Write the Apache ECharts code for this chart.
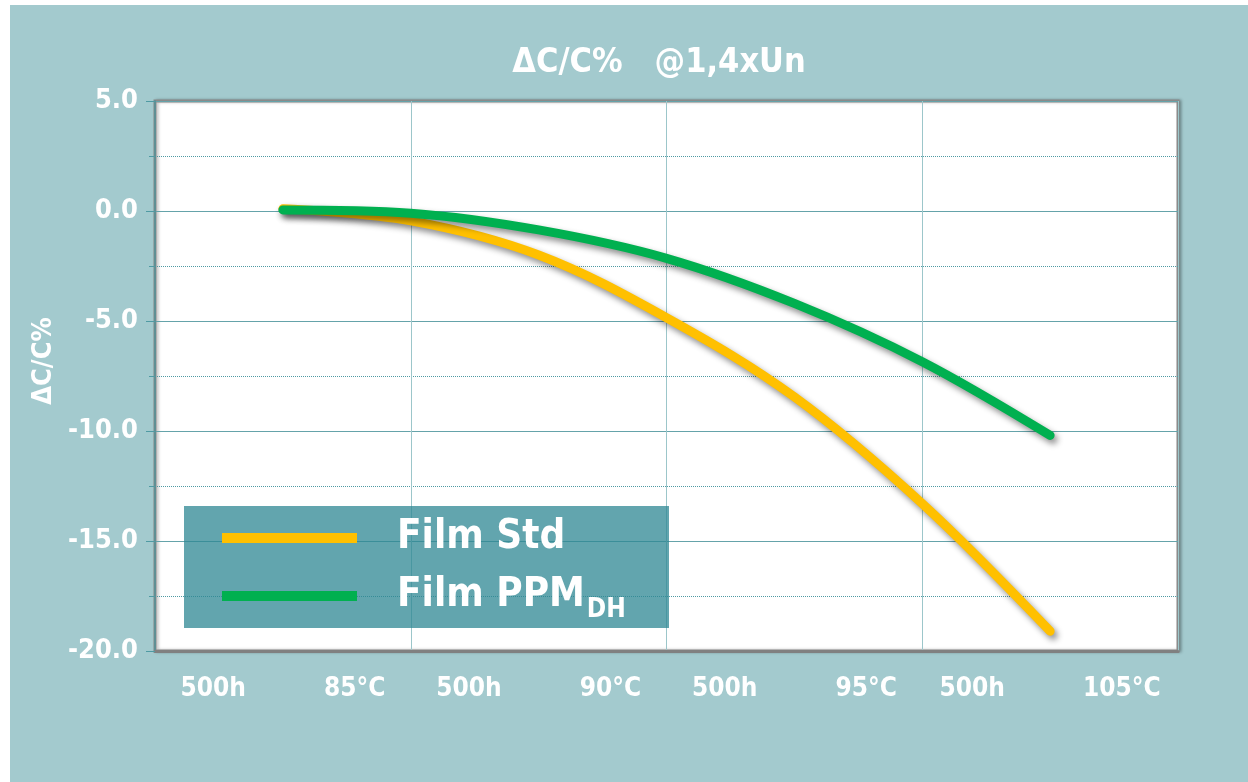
<!DOCTYPE html>
<html>
<head>
<meta charset="utf-8">
<script src="https://cdn.jsdelivr.net/npm/echarts@6/dist/echarts.min.js"></script>
<style>
html,body{margin:0;padding:0;background:#ffffff;}
#chart{width:1248px;height:782px;}
</style>
</head>
<body>
<div id="chart"></div>
<script>
// ---- data ----
const temperatures = ['85°C', '90°C', '95°C', '105°C'];
const durationLabel = '500h';
const xPositions = [0.5, 1.0, 1.5, 2.0, 2.5, 3.0, 3.5];
const filmStd = [0.1, -0.45, -2.0, -4.85, -8.45, -13.3, -19.1];
const filmPPM = [0.05, -0.1, -0.86, -2.15, -4.2, -6.85, -10.2];
const seriesNames = ['Film Std', 'Film PPM'];
const yTicks = { min: -20, max: 5, step: 5 };
const titleText = 'ΔC/C%   @1,4xUn';
const yName = 'ΔC/C%';

const FONT = 'DejaVu Sans Condensed';
const pairs = arr => xPositions.map((x, i) => [x, arr[i]]);

const chart = echarts.init(document.getElementById('chart'), null, { renderer: 'canvas' });
const lineShadow = { shadowColor: 'rgba(0,0,0,0.45)', shadowBlur: 6, shadowOffsetX: 3, shadowOffsetY: 4 };

chart.setOption({
  backgroundColor: '#ffffff',
  animation: false,
  graphic: [
    { type: 'rect', z: -10, silent: true, shape: { x: 10, y: 5, width: 1238, height: 777 }, style: { fill: '#a3cace' } },
    { type: 'rect', z: 3, silent: true, shape: { x: 184, y: 506, width: 485, height: 122 }, style: { fill: 'rgba(46,135,147,0.75)' } }
  ],
  title: {
    text: titleText,
    left: 654, top: 41, textAlign: 'center',
    textStyle: { color: '#ffffff', fontFamily: FONT, fontWeight: 'bold', fontSize: 34 }
  },
  grid: {
    left: 155, top: 101, width: 1023, height: 550,
    show: true, backgroundColor: '#ffffff', borderColor: '#8a8a8a', borderWidth: 3,
    shadowColor: 'rgba(0,0,0,0.25)', shadowBlur: 3, shadowOffsetX: 2, shadowOffsetY: 0
  },
  legend: {
    left: 184, top: 506, orient: 'vertical', z: 4,
    padding: [12, 0, 0, 38], itemGap: 11,
    itemWidth: 135, itemHeight: 10, icon: 'rect',
    data: seriesNames,
    formatter: function (name) {
      if (name === 'Film PPM') return '{sp|}{t|Film PPM}{s|DH}';
      return '{sp|}{t|' + name + '}';
    },
    textStyle: {
      color: '#ffffff', fontFamily: FONT, fontWeight: 'bold',
      rich: {
        sp: { width: 35, height: 44 },
        t: { fontSize: 40, fontFamily: FONT, fontWeight: 'bold', color: '#ffffff', lineHeight: 44 },
        s: { fontSize: 26, fontFamily: FONT, fontWeight: 'bold', color: '#ffffff', padding: [28, 0, 0, 2], lineHeight: 44 }
      }
    }
  },
  xAxis: [
    {
      type: 'value', min: 0, max: 4, interval: 1,
      axisLine: { show: true, onZero: false, lineStyle: { color: '#808080', width: 3 } },
      axisTick: { show: false }, axisLabel: { show: false },
      splitLine: { show: true, lineStyle: { color: '#9cc6ca', width: 1 } }
    },
    {
      type: 'category', data: temperatures, position: 'bottom', boundaryGap: true,
      axisLine: { show: false }, axisTick: { show: false }, splitLine: { show: false },
      axisLabel: {
        margin: 25,
        formatter: function (v) { return '{a|' + durationLabel + '}{g|}{b|' + v + '}'; },
        rich: {
          a: { fontSize: 26, fontFamily: FONT, fontWeight: 'bold', color: '#ffffff' },
          g: { width: 78 },
          b: { fontSize: 26, fontFamily: FONT, fontWeight: 'bold', color: '#ffffff' }
        }
      }
    }
  ],
  yAxis: {
    type: 'value', min: yTicks.min, max: yTicks.max, interval: yTicks.step,
    name: yName, nameLocation: 'middle', nameGap: 92, nameRotate: 90,
    nameTextStyle: { color: '#ffffff', fontFamily: FONT, fontWeight: 'bold', fontSize: 27, padding: [0, 0, 0, 30] },
    axisLine: { show: true, lineStyle: { color: '#5f8f94', width: 2 } },
    axisTick: { show: true, length: 9, lineStyle: { color: '#4f9aa3', width: 1 } },
    minorTick: { show: true, splitNumber: 2, length: 6, lineStyle: { color: '#4f9aa3', width: 1 } },
    axisLabel: {
      margin: 17, color: '#ffffff', fontFamily: FONT, fontWeight: 'bold', fontSize: 27,
      formatter: v => v.toFixed(1)
    },
    splitLine: { show: true, lineStyle: { color: '#65a3aa', width: 1 } },
    minorSplitLine: { show: true, lineStyle: { color: '#4f9aa3', width: 1, type: 'dotted' } }
  },
  series: [
    {
      name: seriesNames[0], type: 'line', xAxisIndex: 0, data: pairs(filmStd),
      smooth: 0.35, showSymbol: false, symbol: 'none', z: 5,
      itemStyle: { color: '#ffc000' },
      lineStyle: Object.assign({ color: '#ffc000', width: 9, cap: 'round', join: 'round' }, lineShadow)
    },
    {
      name: seriesNames[1], type: 'line', xAxisIndex: 0, data: pairs(filmPPM),
      smooth: 0.35, showSymbol: false, symbol: 'none', z: 6,
      itemStyle: { color: '#00b050' },
      lineStyle: Object.assign({ color: '#00b050', width: 9, cap: 'round', join: 'round' }, lineShadow)
    }
  ]
});
</script>
</body>
</html>
